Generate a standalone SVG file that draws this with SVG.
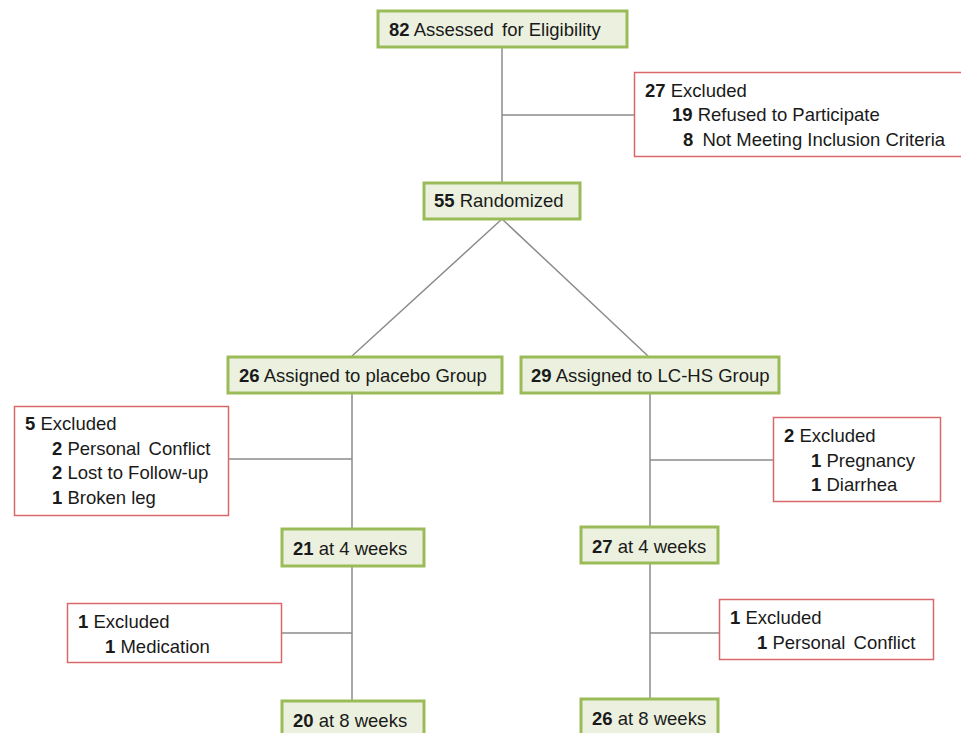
<svg xmlns="http://www.w3.org/2000/svg" width="961" height="733" viewBox="0 0 961 733">
<style>
.g{fill:#ebf1de;stroke:#9bbb59;stroke-width:3}
.r{fill:#ffffff;stroke:#d9686a;stroke-width:1.5}
.c{stroke:#8c8c8c;stroke-width:1.5;fill:none}
text{font-family:"Liberation Sans",Arial,sans-serif;font-size:18.5px;fill:#1a1a1a}
.b{font-weight:bold}
</style>
<rect width="961" height="733" fill="#ffffff"/>
<g id="connectors">
<path class="c" d="M502,47V183M502,115H634M502,219L352,356M502,219L648,356M352,393V530M229,459H352M650,393V528M650,460H773M352,566V701M282,633H352M650,563V700M650,633H719"/>
</g>
<g id="assessed"><rect class="g" x="378" y="11" width="249" height="36"/><text x="389" y="36"><tspan class="b">82</tspan> Assessed <tspan dx="3">for Eligibility</tspan></text></g>
<g id="excl1"><rect class="r" x="634.5" y="72.5" width="330" height="84"/>
<text x="645" y="97"><tspan class="b">27</tspan> Excluded</text>
<text x="672" y="121"><tspan class="b">19</tspan> Refused to Participate</text>
<text x="683" y="146"><tspan class="b">8</tspan> <tspan dx="4">Not Meeting Inclusion Criteria</tspan></text></g>
<g id="randomized"><rect class="g" x="424" y="183" width="156" height="36"/><text x="434" y="207"><tspan class="b">55</tspan> Randomized</text></g>
<g id="placebo"><rect class="g" x="228" y="357" width="274" height="36"/><text x="239" y="382"><tspan class="b">26</tspan> Assigned to placebo Group</text></g>
<g id="lchs"><rect class="g" x="521" y="357" width="258" height="36"/><text x="531" y="382"><tspan class="b">29</tspan> Assigned to LC-HS Group</text></g>
<g id="excl2"><rect class="r" x="14.5" y="406.5" width="214" height="109"/>
<text x="25" y="430"><tspan class="b">5</tspan> Excluded</text>
<text x="52" y="455"><tspan class="b">2</tspan> Personal <tspan dx="3">Conflict</tspan></text>
<text x="52" y="479"><tspan class="b">2</tspan> Lost to Follow-up</text>
<text x="52" y="504"><tspan class="b">1</tspan> Broken leg</text></g>
<g id="excl3"><rect class="r" x="773.5" y="417.5" width="167" height="84"/>
<text x="784" y="442"><tspan class="b">2</tspan> Excluded</text>
<text x="811" y="467"><tspan class="b">1</tspan> Pregnancy</text>
<text x="811" y="491"><tspan class="b">1</tspan> Diarrhea</text></g>
<g id="p4"><rect class="g" x="282" y="529" width="142" height="37"/><text x="293" y="555"><tspan class="b">21</tspan> at 4 weeks</text></g>
<g id="l4"><rect class="g" x="581" y="527" width="137" height="36"/><text x="592" y="553"><tspan class="b">27</tspan> at 4 weeks</text></g>
<g id="excl4"><rect class="r" x="67.5" y="603.5" width="214" height="59"/>
<text x="78" y="628"><tspan class="b">1</tspan> Excluded</text>
<text x="105" y="653"><tspan class="b">1</tspan> Medication</text></g>
<g id="excl5"><rect class="r" x="719.5" y="599.5" width="214" height="60"/>
<text x="730" y="624"><tspan class="b">1</tspan> Excluded</text>
<text x="757" y="649"><tspan class="b">1</tspan> Personal <tspan dx="3">Conflict</tspan></text></g>
<g id="p8"><rect class="g" x="282" y="701" width="142" height="37"/><text x="293" y="727"><tspan class="b">20</tspan> at 8 weeks</text></g>
<g id="l8"><rect class="g" x="581" y="699" width="137" height="37"/><text x="592" y="725"><tspan class="b">26</tspan> at 8 weeks</text></g>
</svg>
